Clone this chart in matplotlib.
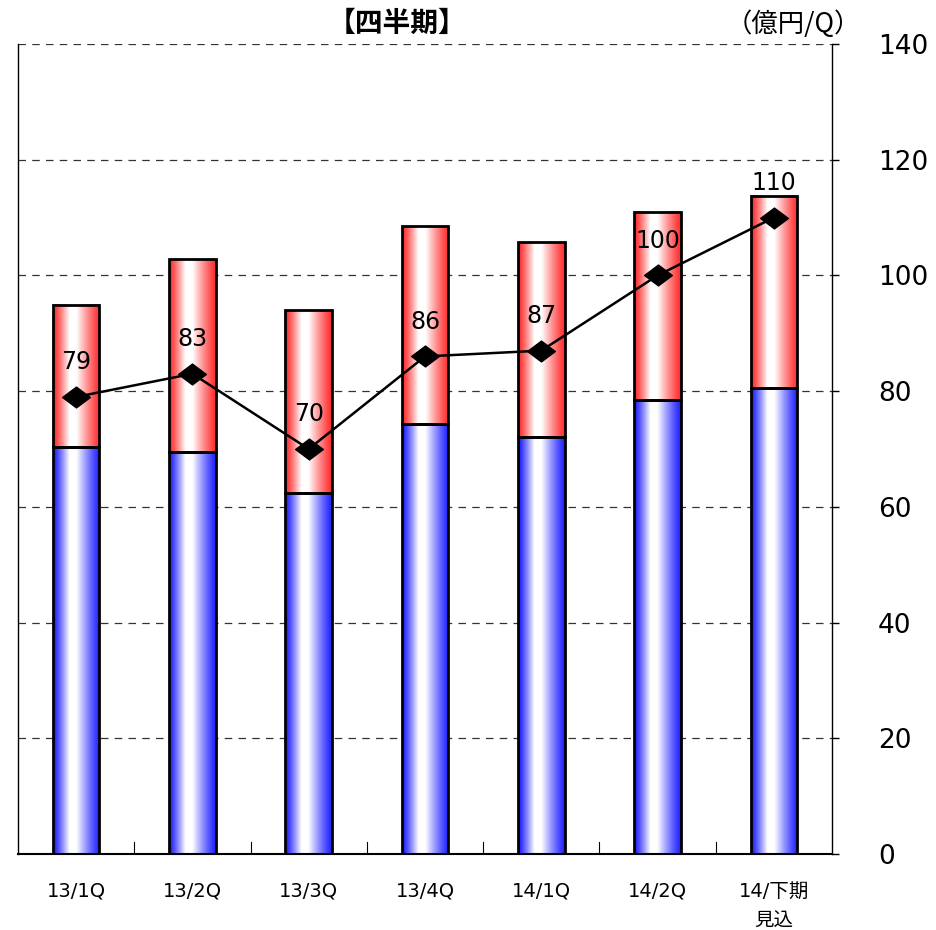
import numpy as np
import matplotlib
matplotlib.use("Agg")
import matplotlib.pyplot as plt
from matplotlib.path import Path

plt.rcParams['font.family'] = ['DejaVu Sans', 'Noto Sans CJK JP']

# quarterly figures (億円/Q)
categories = ['13/1Q', '13/2Q', '13/3Q', '13/4Q', '14/1Q', '14/2Q', '14/下期\n見込']
lower_part = [70.3, 69.5, 62.4, 74.3, 72.1, 78.5, 80.5]
bar_total = [94.9, 102.8, 94.0, 108.5, 105.8, 111.0, 113.7]
line_vals = [79, 83, 70, 86, 87, 100, 110]
yticks = [0, 20, 40, 60, 80, 100, 120, 140]


def gradient(rgb, n=64):
    # saturated at the edges, white plateau a bit left of centre
    t = np.linspace(0, 1, n)
    w = np.interp(t, [0, 0.35, 0.5, 1], [0, 1, 1, 0.05])
    w = w ** 1.2
    base = np.array(rgb, dtype=float)
    row = base[None, :] * (1 - w[:, None]) + w[:, None]
    return row[None, :, :]


blue_img = gradient((0.1, 0.1, 1.0))
red_img = gradient((1.0, 0.15, 0.15))

fig = plt.figure(figsize=(9.36, 9.30), dpi=100)
ax = fig.add_axes([18 / 936, 76 / 930, 814 / 936, 810 / 930])

x = np.arange(len(categories))
width = 0.4

for xi, lo, tot in zip(x, lower_part, bar_total):
    ax.imshow(blue_img, extent=(xi - width / 2, xi + width / 2, 0, lo),
              aspect='auto', zorder=2, interpolation='bilinear')
    ax.imshow(red_img, extent=(xi - width / 2, xi + width / 2, lo, tot),
              aspect='auto', zorder=2, interpolation='bilinear')

upper = [t - l for t, l in zip(bar_total, lower_part)]
ax.bar(x, lower_part, width, fill=False, edgecolor='black', linewidth=2, zorder=3)
ax.bar(x, upper, width, bottom=lower_part, fill=False, edgecolor='black',
       linewidth=2, zorder=3)

# flattened diamond marker
diamond = Path([(-1, 0), (0, 0.75), (1, 0), (0, -0.75), (-1, 0)],
               [Path.MOVETO, Path.LINETO, Path.LINETO, Path.LINETO, Path.CLOSEPOLY])
ax.plot(x, line_vals, color='black', linewidth=1.8, marker=diamond,
        markersize=20, zorder=4)
for xi, v in zip(x, line_vals):
    ax.annotate(str(v), (xi, v), xytext=(0, 25), textcoords='offset points',
                ha='center', va='center', fontsize=17, zorder=5)

ax.set_xlim(-0.5, len(categories) - 0.5)
ax.set_ylim(0, 140)

ax.yaxis.tick_right()
ax.set_yticks(yticks)
ax.set_yticklabels([str(v) for v in yticks], fontsize=19, ha='left')
ax.tick_params(axis='y', length=5, width=1, pad=28)
ax.grid(axis='y', linestyle=(0, (6, 5)), color='#333333', linewidth=0.9, zorder=0)

ax.set_xticks(x)
ax.set_xticklabels(categories, fontsize=14, linespacing=1.75, va='top')
ax.tick_params(axis='x', length=0, pad=20)
for b in np.arange(0.5, len(categories) - 1, 1.0):
    ax.plot([b, b], [0, 2], color='black', linewidth=0.8, zorder=1)

ax.spines['top'].set_visible(False)
for s in ['left', 'right', 'bottom']:
    ax.spines[s].set_linewidth(1.0)
ax.spines['bottom'].set_linewidth(1.5)

fig.text(397 / 936, 1 - 24 / 930, '【四半期】', ha='center', va='center',
         fontsize=20, fontweight='bold', family=['Noto Sans CJK JP', 'DejaVu Sans'])
fig.text(793 / 936, 1 - 24 / 930, '（億円/Q）', ha='center', va='center',
         fontsize=19, family=['Noto Sans CJK JP', 'DejaVu Sans'])

fig.savefig('out.png', dpi=100)
